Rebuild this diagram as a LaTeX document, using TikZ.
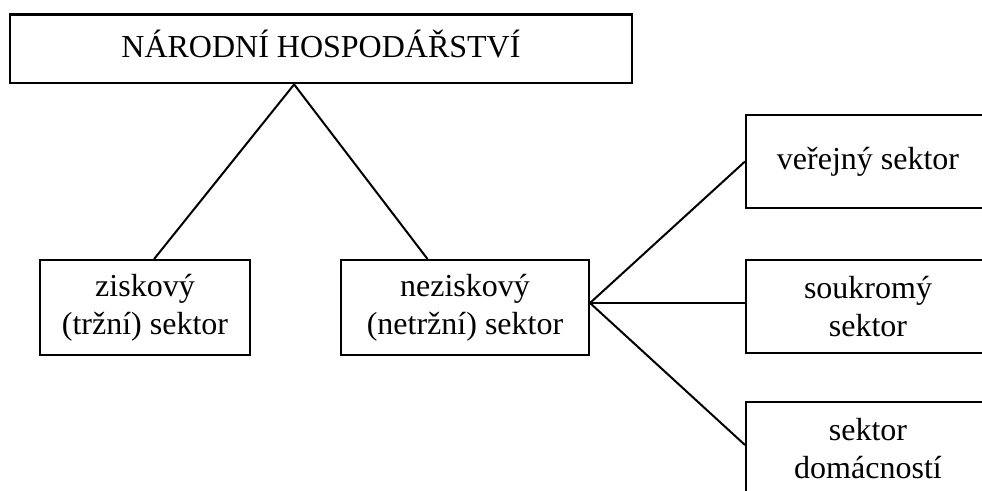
\documentclass[tikz,border=0pt]{standalone}
\usepackage{fontspec}
\setmainfont{Liberation Serif}
\usetikzlibrary{calc}
\tikzset{
  box/.style={draw=black, line width=2pt, inner sep=0pt, align=center,
    font=\fontsize{32}{38}\selectfont},
  conn/.style={draw=black, line width=2pt}
}
\begin{document}
\begin{tikzpicture}[x=1pt,y=-1pt]
\useasboundingbox (0,0) rectangle (982,490);
\clip (0,0) rectangle (982,490);
\fill[white] (0,0) rectangle (982,490);
\node[box, line width=2.8pt, minimum width=622pt, minimum height=68.5pt,
  text height=23pt, text depth=6pt] (top) at (321,48.75)
  {NÁRODNÍ HOSPODÁŘSTVÍ};
\node[box, minimum width=210pt, minimum height=95pt] (zisk) at (145,307.5)
  {ziskový\\(tržní) sektor};
\node[box, minimum width=248pt, minimum height=95pt] (nezisk) at (465,307.5)
  {neziskový\\(netržní) sektor};
\node[box, minimum width=244pt, minimum height=93pt] (verej) at (868,161.5)
  {veřejný sektor};
\node[box, minimum width=244pt, minimum height=93pt] (soukr) at (868,306.5)
  {soukromý\\sektor};
\node[box, minimum width=244pt, minimum height=93pt] (domac) at (868,448.5)
  {sektor\\domácností};
\coordinate (apex) at ($(top.south west)!0.457!(top.south east)$);
\coordinate (ziskin) at ($(zisk.north west)!0.543!(zisk.north east)$);
\coordinate (nezin) at ($(nezisk.north west)!0.35!(nezisk.north east)$);
\coordinate (fan) at ($(nezisk.east)+(0,-4.5)$);
\draw[conn] (apex) -- (ziskin);
\draw[conn] (apex) -- (nezin);
\draw[conn] (fan) -- (verej.west);
\draw[conn] (fan) -- (soukr.west |- fan);
\draw[conn] (fan) -- ($(domac.west)+(0,-3.5)$);
\end{tikzpicture}
\end{document}
